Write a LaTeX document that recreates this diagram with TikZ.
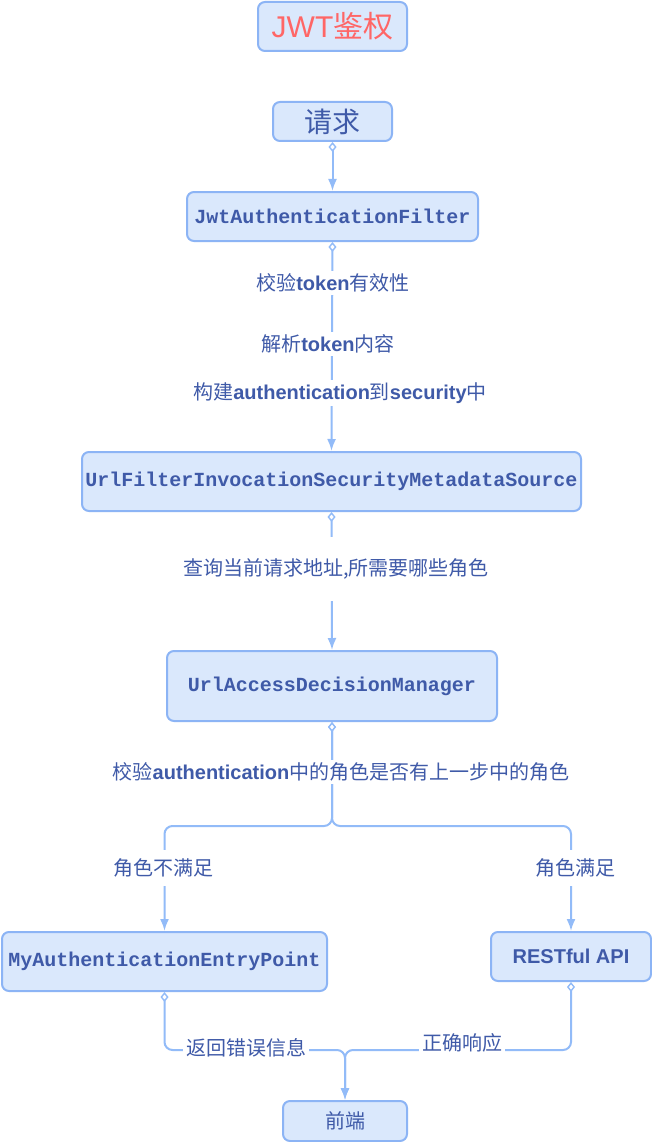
\documentclass[tikz,border=0pt]{standalone}
\usepackage{fontspec}
\setmainfont{Liberation Sans}
\newfontfamily\cjk{Noto Sans CJK SC}
\newfontfamily\monof{Liberation Mono}
\usetikzlibrary{arrows.meta}
\definecolor{boxfill}{HTML}{DAE8FC}
\definecolor{boxline}{HTML}{8CB4F5}
\definecolor{txt}{HTML}{3F5AA8}
\definecolor{ttl}{HTML}{FF6666}
\definecolor{connc}{HTML}{92BBF8}
\newcommand\zhx[1]{{\cjk #1}}
\begin{document}
\begin{tikzpicture}[x=1pt,y=-1pt,
  box/.style={draw=boxline, fill=boxfill, line width=2pt, rounded corners=7pt,
    text=txt, inner sep=0pt, font=\fontsize{20}{24}\selectfont},
  monobox/.style={box, font=\fontsize{20}{24}\selectfont\monof\bfseries},
  link/.style={draw=connc, line width=2pt, rounded corners=8pt,
    {Diamond[length=10pt,width=8pt,fill=white,line width=1.4pt]}-{Latex[length=12pt,width=9pt]}},
  lbl/.style={fill=white, text=txt, font=\fontsize{20}{24}\selectfont, inner xsep=3pt, inner ysep=3pt}]
\useasboundingbox (0,0) rectangle (652,1142);
\fill[white] (0,0) rectangle (652,1142);

% boxes
\node[box, minimum width=149, minimum height=49, text=ttl, font=\fontsize{30}{36}\selectfont] (title) at (332.5,26.5) {JWT\zhx{鉴权}};
\node[box, minimum width=119, minimum height=39, font=\fontsize{28}{32}\selectfont\cjk] (req) at (332.5,121.5) {请求};
\node[monobox, minimum width=291, minimum height=49] (jwt) at (332.5,216.5) {JwtAuthenticationFilter};
\node[monobox, minimum width=499, minimum height=59] (ufs) at (331.5,481.5) {UrlFilterInvocationSecurityMetadataSource};
\node[monobox, minimum width=330, minimum height=70] (uad) at (332,686) {UrlAccessDecisionManager};
\node[monobox, minimum width=325, minimum height=59] (mae) at (164.5,961.5) {MyAuthenticationEntryPoint};
\node[box, minimum width=160, minimum height=49, font=\fontsize{20}{24}\selectfont\bfseries] (rest) at (571,956.5) {RESTful API};
\node[box, minimum width=124, minimum height=40, font=\fontsize{20}{24}\selectfont\cjk] (fe) at (345,1121) {前端};

% connectors
\draw[link] (req.south) -- (jwt.north);
\draw[link] (jwt.south) -- (ufs.north);
\draw[link] (ufs.south) -- (uad.north);
\coordinate (sp) at (332,826);
\draw[link] (uad.south) -- (sp) -| (mae.north);
\draw[link] (uad.south) -- (sp) -| (rest.north);
\coordinate (mg) at (345,1050);
\draw[link] (mae.south) |- (mg) -- (fe.north);
\draw[link] (rest.south) |- (mg) -- (fe.north);

% labels
\node[lbl] (l1) at (333,283) {\zhx{校验}\textbf{token}\zhx{有效性}};
\node[lbl] (l2) at (328,344) {\zhx{解析}\textbf{token}\zhx{内容}};
\node[lbl] (l3) at (340,393) {\zhx{构建}\textbf{authentication}\zhx{到}\textbf{security}\zhx{中}};
\node[lbl, minimum height=64] (l4) at (336,569) {\zhx{查询当前请求地址,所需要哪些角色}};
\node[lbl] (l5) at (341,772) {\zhx{校验}\textbf{authentication}\zhx{中的角色是否有上一步中的角色}};
\node[lbl, minimum height=36] (l6) at (163,868) {\zhx{角色不满足}};
\node[lbl, minimum height=36] (l7) at (575,868) {\zhx{角色满足}};
\node[lbl, inner ysep=1pt] (l8) at (246,1048) {\zhx{返回错误信息}};
\node[lbl, inner ysep=1pt] (l9) at (462,1043) {\zhx{正确响应}};
\end{tikzpicture}
\end{document}
